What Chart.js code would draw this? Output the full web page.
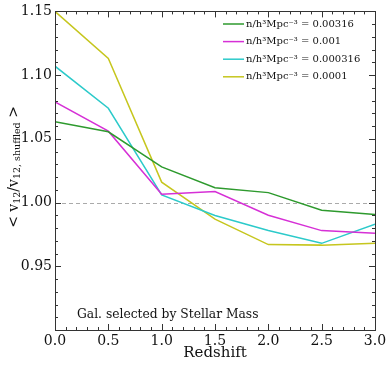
<!DOCTYPE html>
<html>
<head>
<meta charset="utf-8">
<script src="https://cdn.jsdelivr.net/npm/chart.js@4/dist/chart.umd.min.js"></script>
<style>
  html, body { margin: 0; padding: 0; background: #fff; }
  #wrap { width: 390px; height: 367px; }
</style>
</head>
<body>
<div id="wrap"><canvas id="myChart" width="390" height="367"></canvas></div>
<script>
const redshift = [0, 0.5, 1.0, 1.5, 2.0, 2.5, 3.0];
const n00316 = [1.0635, 1.0555, 1.028, 1.0117, 1.0078, 0.994, 0.9906];
const n001 = [1.079, 1.056, 1.0065, 1.0086, 0.990, 0.978, 0.976];
const n000316 = [1.107, 1.074, 1.006, 0.9898, 0.978, 0.968, 0.983];
const n0001 = [1.150, 1.113, 1.016, 0.987, 0.967, 0.9666, 0.968];
const labels = [
  "n/h\u00B3Mpc\u207B\u00B3 = 0.00316",
  "n/h\u00B3Mpc\u207B\u00B3 = 0.001",
  "n/h\u00B3Mpc\u207B\u00B3 = 0.000316",
  "n/h\u00B3Mpc\u207B\u00B3 = 0.0001",
];
const colors = ["#2e9a2e", "#d630d6", "#2ccaca", "#c6c61e"];
const serif = "'DejaVu Serif', serif";
const axisColor = "#333";

function pts(ys) {
  return redshift.map((x, i) => ({ x: x, y: ys[i] }));
}

const series = [n00316, n001, n000316, n0001];

// ticks inside, frame, dashed line, legend, notes
const decor = {
  id: "decor",
  beforeDatasetsDraw(chart) {
    const ctx = chart.ctx;
    const a = chart.chartArea;
    const y1 = chart.scales.y.getPixelForValue(1.0);
    ctx.save();
    ctx.strokeStyle = "#aaa";
    ctx.lineWidth = 1;
    ctx.setLineDash([4, 3]);
    ctx.beginPath();
    ctx.moveTo(a.left, Math.round(y1) + 0.5);
    ctx.lineTo(a.right, Math.round(y1) + 0.5);
    ctx.stroke();
    ctx.restore();
  },
  afterDraw(chart) {
    const ctx = chart.ctx;
    const a = chart.chartArea;
    const xs = chart.scales.x;
    const ys = chart.scales.y;
    ctx.save();
    ctx.strokeStyle = axisColor;
    ctx.lineWidth = 1;
    ctx.strokeRect(Math.round(a.left) + 0.5, Math.round(a.top) + 0.5,
      Math.round(a.right - a.left), Math.round(a.bottom - a.top));
    ctx.beginPath();
    for (let i = 0; i <= 30; i++) {
      const v = i / 10;
      const p = Math.round(xs.getPixelForValue(v)) + 0.5;
      const len = i % 5 === 0 ? 6 : 3;
      ctx.moveTo(p, a.bottom); ctx.lineTo(p, a.bottom - len);
      ctx.moveTo(p, a.top); ctx.lineTo(p, a.top + len);
    }
    for (let i = 90; i <= 115; i++) {
      const v = i / 100;
      const p = Math.round(ys.getPixelForValue(v)) + 0.5;
      const len = i % 5 === 0 ? 6 : 3;
      ctx.moveTo(a.left, p); ctx.lineTo(a.left + len, p);
      ctx.moveTo(a.right, p); ctx.lineTo(a.right - len, p);
    }
    ctx.stroke();

    // legend
    ctx.font = "10px " + serif;
    ctx.textBaseline = "middle";
    ctx.fillStyle = "#111";
    chart.data.datasets.forEach((ds, i) => {
      const y = 24 + i * 17.6;
      ctx.strokeStyle = ds.borderColor;
      ctx.lineWidth = 1.5;
      ctx.beginPath();
      ctx.moveTo(223, y); ctx.lineTo(244, y);
      ctx.stroke();
      ctx.fillText(ds.label, 246, y);
    });

    // note
    ctx.font = "12.3px " + serif;
    ctx.fillStyle = "#111";
    ctx.fillText("Gal. selected by Stellar Mass", 77, 315);

    // x title
    ctx.font = "15px " + serif;
    ctx.textAlign = "center";
    ctx.fillText("Redshift", (a.left + a.right) / 2, 353);

    // y title
    ctx.translate(14, 167);
    ctx.rotate(-Math.PI / 2);
    const parts = [
      ["< v", 14, 0], ["12", 9.5, 4], ["/v", 14, 0], ["12, shuffled", 9.5, 4], [" >", 14, 0]
    ];
    let w = 0;
    parts.forEach(p => { ctx.font = p[1] + "px " + serif; w += ctx.measureText(p[0]).width; });
    let x = -w / 2;
    ctx.textAlign = "left";
    parts.forEach(p => {
      ctx.font = p[1] + "px " + serif;
      ctx.fillText(p[0], x, p[2]);
      x += ctx.measureText(p[0]).width;
    });
    ctx.restore();
  }
};

new Chart("myChart", {
  type: "line",
  data: {
    datasets: series.map((s, i) => ({
      label: labels[i],
      data: pts(s),
      borderColor: colors[i],
      borderWidth: 1.5,
      pointRadius: 0,
      fill: false,
      tension: 0,
    })),
  },
  options: {
    responsive: false,
    animation: false,
    layout: { padding: { top: 11, right: 15, left: 0, bottom: 0 } },
    plugins: { legend: { display: false }, tooltip: { enabled: false } },
    scales: {
      x: {
        type: "linear",
        min: 0,
        max: 3,
        grid: { display: false, drawTicks: false },
        border: { display: false },
        ticks: {
          stepSize: 0.5,
          padding: 3,
          maxRotation: 0,
          autoSkip: false,
          color: "#111",
          font: { family: serif, size: 14 },
          callback: (v) => v.toFixed(1),
        },
        afterFit: (s) => { s.height = 37; },
      },
      y: {
        min: 0.9,
        max: 1.15,
        grid: { display: false, drawTicks: false },
        border: { display: false },
        ticks: {
          stepSize: 0.05,
          padding: 3,
          autoSkip: false,
          color: "#111",
          font: { family: serif, size: 14 },
          callback: (v) => (Math.abs(v - 0.9) < 1e-6 ? "" : v.toFixed(2)),
        },
        afterFit: (s) => { s.width = 55; },
      },
    },
  },
  plugins: [decor],
});
</script>
</body>
</html>
